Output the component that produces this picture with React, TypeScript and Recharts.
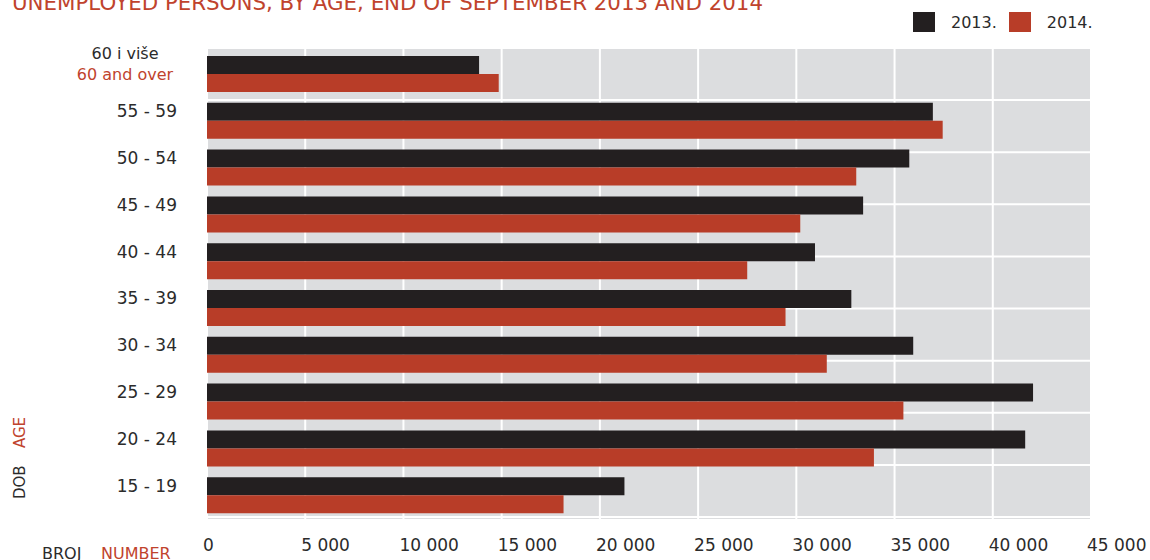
import { BarChart, Bar, XAxis, YAxis, CartesianGrid, Legend } from "recharts";

const ageGroups = ["60 i više", "55 - 59", "50 - 54", "45 - 49", "40 - 44", "35 - 39", "30 - 34", "25 - 29", "20 - 24", "15 - 19"];
const firstGroupEn = "60 and over";
const values2013 = [13850, 36950, 35750, 33400, 30950, 32800, 35950, 42050, 41650, 21250];
const values2014 = [14850, 37450, 33050, 30200, 27500, 29450, 31550, 35450, 33950, 18150];
const xTicks = [0, 5000, 10000, 15000, 20000, 25000, 30000, 35000, 40000, 45000];
const gridTicks = [1, 2, 3, 4, 5, 6, 7, 8, 9];

const title = "UNEMPLOYED PERSONS, BY AGE, END OF SEPTEMBER 2013 AND 2014";

const DARK = "#231f20";
const RED = "#b83d28";
const RED_TEXT = "#c0432d";
const TEXT = "#2b2b2b";
const FONT = "DejaVu Sans, sans-serif";

const data = ageGroups.map((age, i) => ({
  age,
  y2013: values2013[i],
  y2014: values2014[i],
}));

const fmt = (v: number) => (v >= 1000 ? `${Math.floor(v / 1000)} ${String(v % 1000).padStart(3, "0")}` : String(v));

function XTick(props: any) {
  const { x, payload } = props;
  return (
    <text x={x - 4} y={551} fontSize={17} fontFamily={FONT} fill={TEXT} textAnchor="start">
      {fmt(payload.value)}
    </text>
  );
}

function YTick(props: any) {
  const { y, payload } = props;
  if (payload.value === ageGroups[0]) {
    return (
      <g fontFamily={FONT} fontSize={16} textAnchor="middle">
        <text x={125} y={y - 15} fill={TEXT}>{payload.value}</text>
        <text x={125} y={y + 6} fill={RED_TEXT}>{firstGroupEn}</text>
      </g>
    );
  }
  return (
    <text x={177} y={y - 4} fontSize={17} fontFamily={FONT} fill={TEXT} textAnchor="end">
      {payload.value}
    </text>
  );
}

function LegendBox() {
  const items = [
    { label: "2013.", color: DARK },
    { label: "2014.", color: RED },
  ];
  return (
    <div style={{ display: "flex", alignItems: "center", fontFamily: FONT, fontSize: 16, color: TEXT, height: 20 }}>
      {items.map((it, i) => (
        <div key={it.label} style={{ display: "flex", alignItems: "center", marginLeft: i ? 12 : 0 }}>
          <span style={{ width: 22, height: 20, background: it.color, display: "inline-block" }} />
          <span style={{ marginLeft: 16 }}>{it.label}</span>
        </div>
      ))}
    </div>
  );
}

export default function App() {
  return (
    <div style={{ position: "absolute", left: 0, top: 0, width: 1150, height: 560, overflow: "hidden", background: "#fff" }}>
      <BarChart
        width={1150}
        height={560}
        data={data}
        layout="vertical"
        barGap={0}
        margin={{ top: 48, right: 59, bottom: 10, left: 0 }}
      >
        <CartesianGrid yAxisId="grid" fill="#dcdddf" fillOpacity={1} stroke="#ffffff" strokeWidth={2} />
        <XAxis
          type="number"
          domain={[0, 45000]}
          ticks={xTicks}
          axisLine={false}
          tickLine={false}
          height={30}
          tick={<XTick />}
          interval={0}
        />
        <YAxis
          type="category"
          dataKey="age"
          width={207}
          axisLine={false}
          tickLine={false}
          padding={{ top: 3, bottom: 1 }}
          tick={<YTick />}
          interval={0}
        />
        <YAxis yAxisId="grid" type="number" domain={[0, 10]} ticks={gridTicks} padding={{ top: 0, bottom: 3 }} hide />
        <Legend
          layout="horizontal"
          verticalAlign="middle"
          align="center"
          content={<LegendBox />}
          wrapperStyle={{ top: 12, left: 913, width: "auto" }}
        />
        <Bar dataKey="y2013" name="2013." fill={DARK} barSize={18} isAnimationActive={false} />
        <Bar dataKey="y2014" name="2014." fill={RED} barSize={18} isAnimationActive={false} />
      </BarChart>
      <svg width={1150} height={560} style={{ position: "absolute", left: 0, top: 0, pointerEvents: "none" }}>
        <text x={12} y={10} fontSize={22} fontFamily={FONT} fill={RED_TEXT} textLength={751} lengthAdjust="spacingAndGlyphs">
          {title}
        </text>
        <text x={25} y={499} fontSize={15} fontFamily={FONT} fill={TEXT} transform="rotate(-90 25 499)">DOB</text>
        <text x={25} y={448} fontSize={15} fontFamily={FONT} fill={RED_TEXT} transform="rotate(-90 25 448)">AGE</text>
        <text x={42} y={559} fontSize={16} fontFamily={FONT} fill={TEXT}>BROJ</text>
        <text x={101} y={559} fontSize={16} fontFamily={FONT} fill={RED_TEXT}>NUMBER</text>
      </svg>
    </div>
  );
}
